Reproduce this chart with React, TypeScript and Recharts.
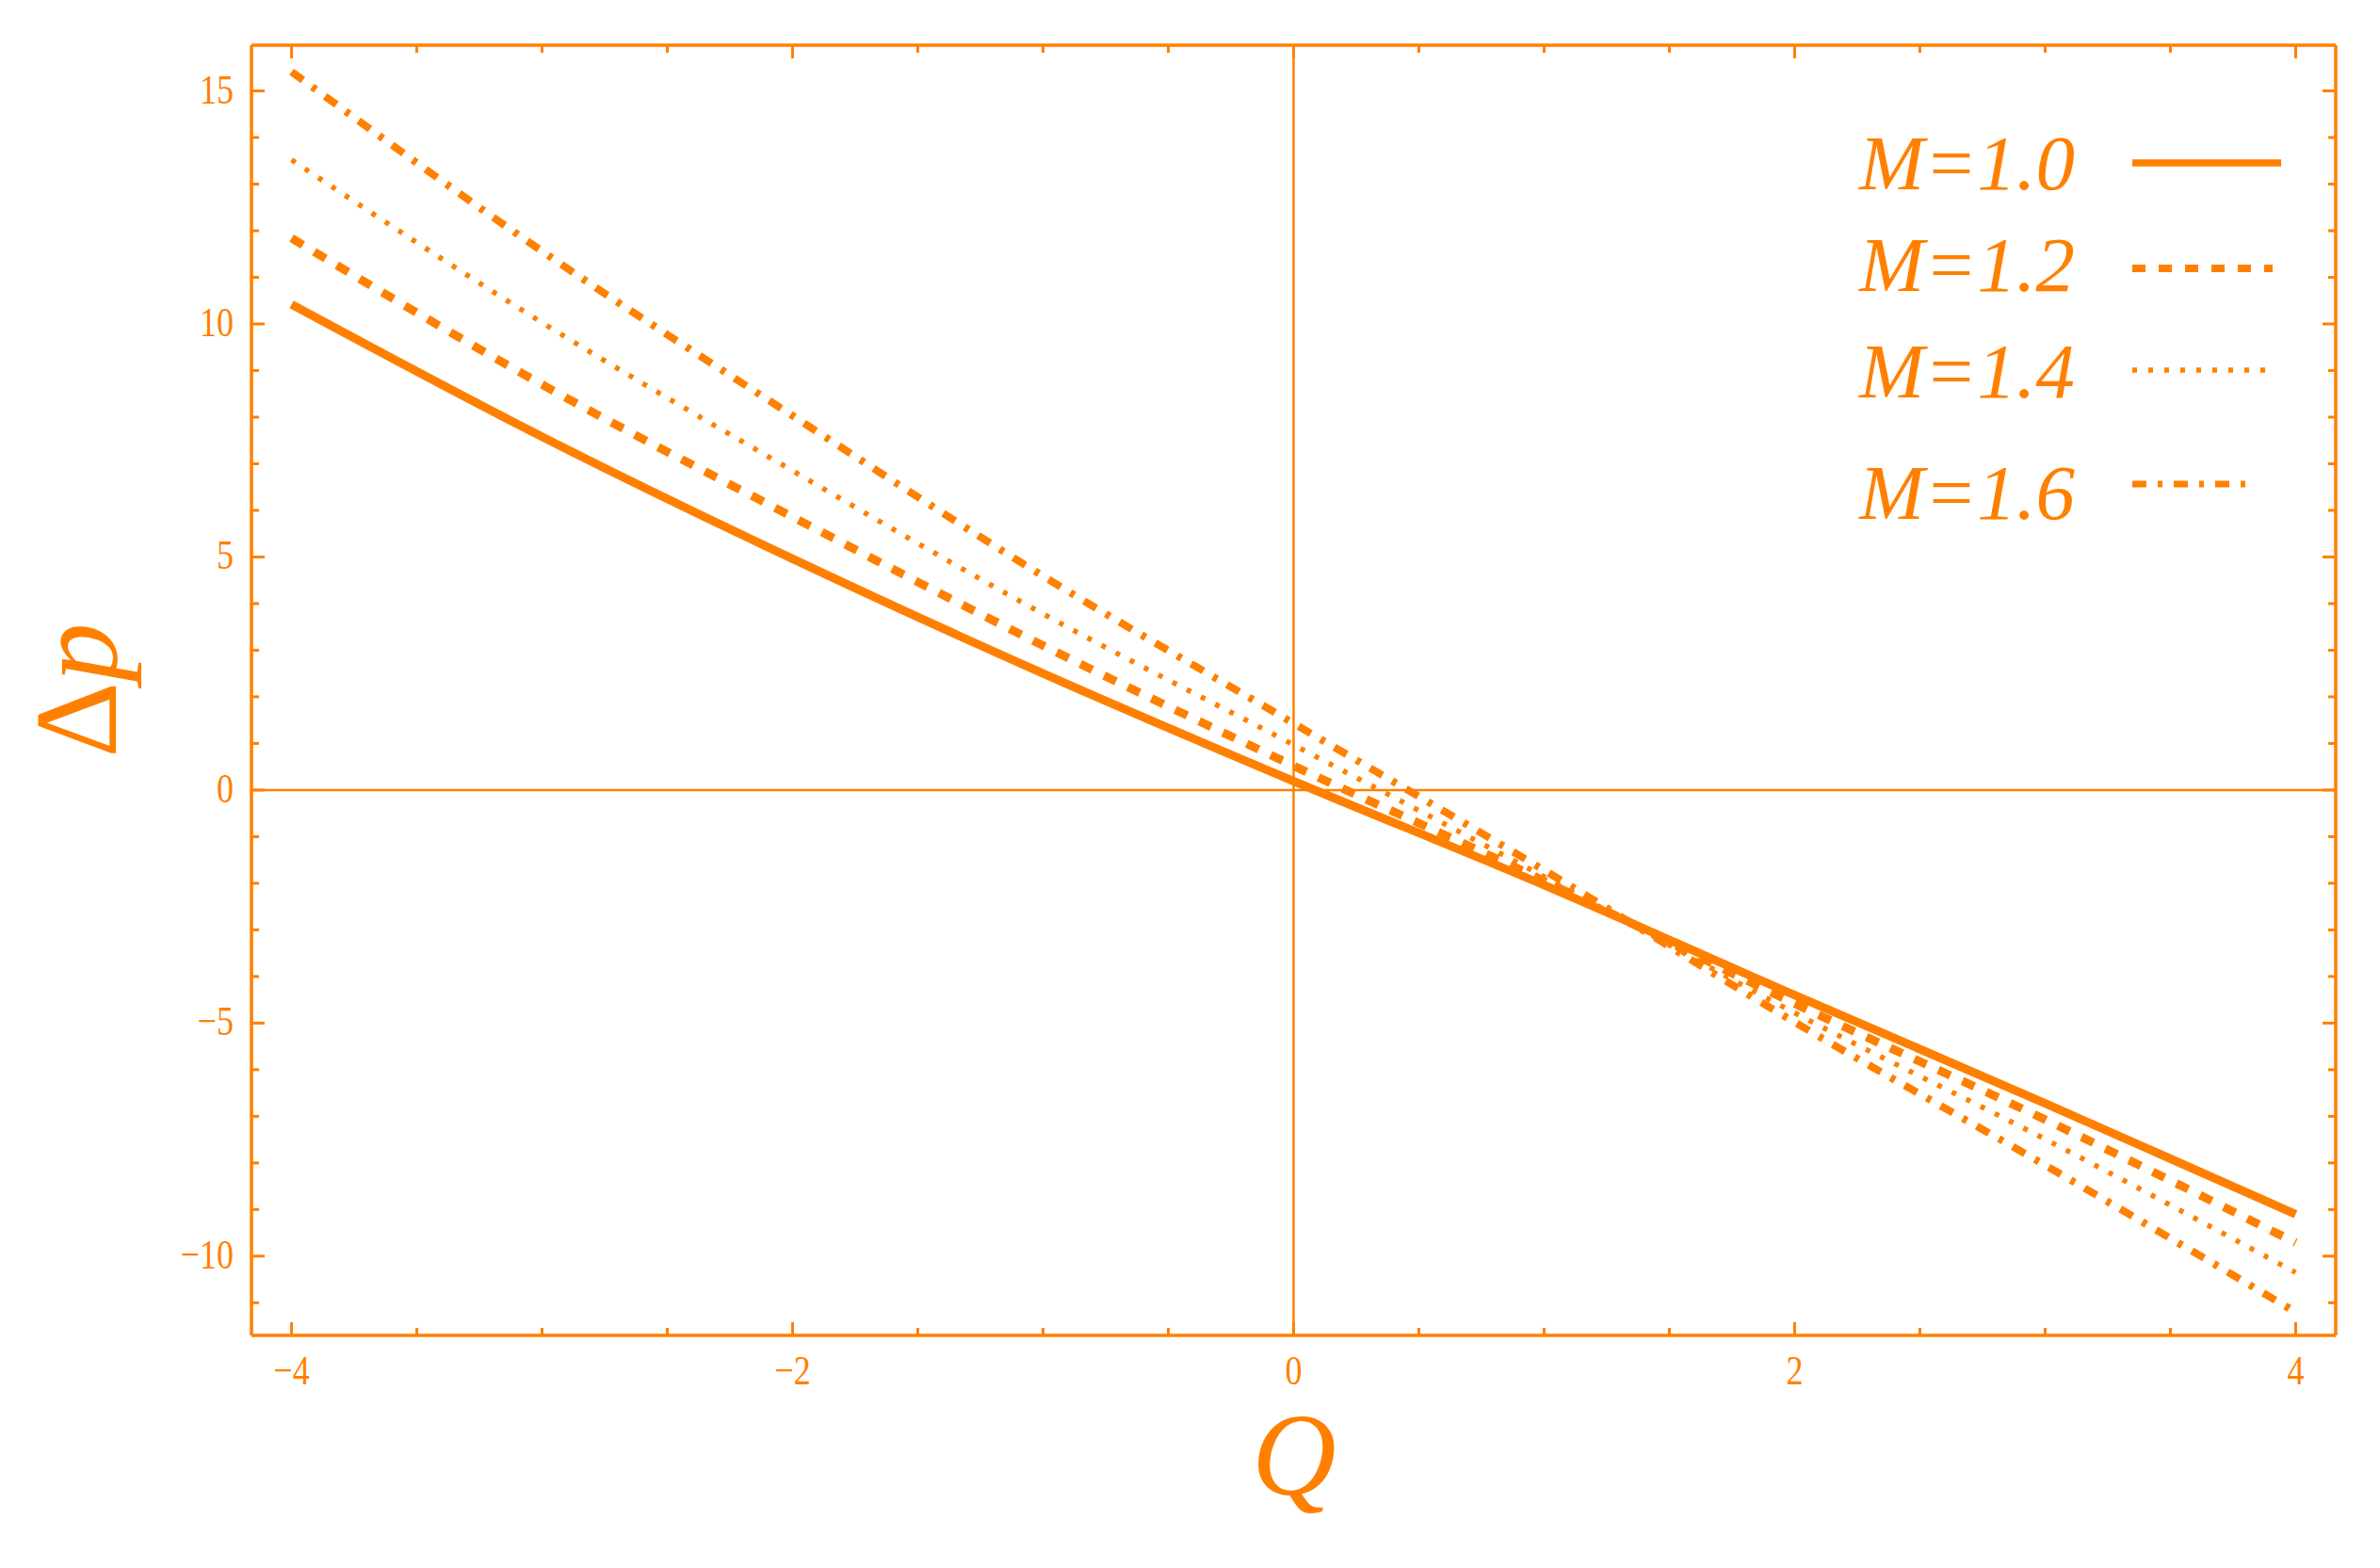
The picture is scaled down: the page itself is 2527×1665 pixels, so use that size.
import { LineChart, Line, XAxis, YAxis, ReferenceLine, Legend } from "recharts";

// pressure rise Δp against flow rate Q, for four values of M
const Q_VALUES = [-4, -3, -2, -1, 0, 1, 2, 3, 4];
const DP_M10 = [10.42, 7.58, 4.96, 2.5, 0.19, -2.04, -4.4, -6.72, -9.1];
const DP_M12 = [11.84, 8.7, 5.86, 3.1, 0.52, -1.95, -4.58, -7.07, -9.71];
const DP_M14 = [13.52, 10.03, 6.85, 3.78, 0.97, -1.86, -4.78, -7.49, -10.35];
const DP_M16 = [15.41, 11.56, 8.03, 4.59, 1.43, -1.72, -4.98, -8.05, -11.2];

const SERIES_NAMES = ["M=1.0", "M=1.2", "M=1.4", "M=1.6"];

const X_TICKS = [-4, -3.5, -3, -2.5, -2, -1.5, -1, -0.5, 0, 0.5, 1, 1.5, 2, 2.5, 3, 3.5, 4];
const X_MAJOR = [-4, -2, 0, 2, 4];
const Y_TICKS = [-11, -10, -9, -8, -7, -6, -5, -4, -3, -2, -1, 0, 1, 2, 3, 4, 5, 6, 7, 8, 9, 10, 11, 12, 13, 14, 15];
const Y_MAJOR = [-10, -5, 0, 5, 10, 15];

const data = Q_VALUES.map((q, i) => ({
  q,
  m10: DP_M10[i],
  m12: DP_M12[i],
  m14: DP_M14[i],
  m16: DP_M16[i],
}));

const ORANGE = "#ff8000";
const SERIF = "'Liberation Serif', 'DejaVu Serif', serif";
const W = 2511;
const H = 1648;
const MAJOR_LEN = 14;
const MINOR_LEN = 8;

const STYLES = [
  { key: "m10", width: 9, dash: undefined, legendEnd: 2414, legendWidth: 7.5 },
  { key: "m12", width: 9, dash: "14 14", legendEnd: 2405, legendWidth: 8 },
  { key: "m14", width: 5.5, dash: "5 12", legendEnd: 2405, legendWidth: 5.5 },
  { key: "m16", width: 8, dash: "15 12 5 12", legendEnd: 2380, legendWidth: 7 },
];
const LEGEND_LINE_Y = [165, 277, 385, 506];
const LEGEND_BASELINE = [193, 301, 414, 543];

const fmt = (v: number) => (v < 0 ? `\u2212${Math.abs(v)}` : `${v}`);

const tickLabel = (x: number, y: number, anchor: string, text: string) => (
  <text
    transform={`translate(${x},${y}) scale(0.8,1)`}
    textAnchor={anchor}
    fontFamily={SERIF}
    fontSize={45}
    fill={ORANGE}
  >
    {text}
  </text>
);

function BottomTick({ x, y, payload }: any) {
  const major = X_MAJOR.includes(payload.value);
  return (
    <g>
      <line x1={x} y1={y} x2={x} y2={y - (major ? MAJOR_LEN : MINOR_LEN)} stroke={ORANGE} strokeWidth={3} />
      {major && tickLabel(x, y + 52, "middle", fmt(payload.value))}
    </g>
  );
}

function TopTick({ x, y, payload }: any) {
  const major = X_MAJOR.includes(payload.value);
  return <line x1={x} y1={y} x2={x} y2={y + (major ? MAJOR_LEN : MINOR_LEN)} stroke={ORANGE} strokeWidth={3} />;
}

function LeftTick({ x, y, payload }: any) {
  const major = Y_MAJOR.includes(payload.value);
  return (
    <g>
      <line x1={x} y1={y} x2={x + (major ? MAJOR_LEN : MINOR_LEN)} y2={y} stroke={ORANGE} strokeWidth={3} />
      {major && tickLabel(x - 19, y + 13, "end", fmt(payload.value))}
    </g>
  );
}

function RightTick({ x, y, payload }: any) {
  const major = Y_MAJOR.includes(payload.value);
  return <line x1={x} y1={y} x2={x - (major ? MAJOR_LEN : MINOR_LEN)} y2={y} stroke={ORANGE} strokeWidth={3} />;
}

function LegendBox() {
  return (
    <svg width={W} height={H} style={{ display: "block" }}>
      {STYLES.map((s, i) => (
        <g key={s.key}>
          <text
            x={2195}
            y={LEGEND_BASELINE[i]}
            textAnchor="end"
            fontFamily={SERIF}
            fontStyle="italic"
            fontSize={83}
            fill={ORANGE}
          >
            {SERIES_NAMES[i]}
          </text>
          <line
            x1={2256}
            x2={s.legendEnd}
            y1={LEGEND_LINE_Y[i]}
            y2={LEGEND_LINE_Y[i]}
            stroke={ORANGE}
            strokeWidth={s.legendWidth}
            strokeDasharray={s.dash}
          />
        </g>
      ))}
    </svg>
  );
}

const axisLine = { stroke: ORANGE, strokeWidth: 3.5 };

export default function App() {
  return (
    <div style={{ width: W, height: H, background: "#fff" }}>
      <LineChart width={W} height={H} data={data} margin={{ top: 20, right: 9, bottom: 138, left: 159 }}>
        <XAxis
          xAxisId="top"
          orientation="top"
          type="number"
          dataKey="q"
          domain={[-4.16, 4.16]}
          allowDataOverflow
          ticks={X_TICKS}
          interval={0}
          height={20}
          tickSize={0}
          tickMargin={0}
          tickLine={false}
          axisLine={axisLine}
          tick={<TopTick />}
        />
        <XAxis
          type="number"
          dataKey="q"
          domain={[-4.16, 4.16]}
          allowDataOverflow
          ticks={X_TICKS}
          interval={0}
          height={100}
          tickSize={0}
          tickMargin={0}
          tickLine={false}
          axisLine={axisLine}
          tick={<BottomTick />}
          label={{
            content: () => (
              <text x={1366} y={1579} textAnchor="middle" fontFamily={SERIF} fontStyle="italic" fontSize={124} fill={ORANGE}>
                Q
              </text>
            ),
          }}
        />
        <YAxis
          type="number"
          domain={[-11.7, 15.98]}
          allowDataOverflow
          ticks={Y_TICKS}
          interval={0}
          width={100}
          tickSize={0}
          tickMargin={0}
          tickLine={false}
          axisLine={axisLine}
          tick={<LeftTick />}
          label={{
            content: () => (
              <text
                x={115}
                y={725}
                transform="rotate(-90, 115, 725)"
                textAnchor="middle"
                fontFamily={SERIF}
                fontSize={125}
                fill={ORANGE}
              >
                Δ<tspan fontStyle="italic">p</tspan>
              </text>
            ),
          }}
        />
        <YAxis
          yAxisId="right"
          orientation="right"
          type="number"
          domain={[-11.7, 15.98]}
          allowDataOverflow
          ticks={Y_TICKS}
          interval={0}
          width={30}
          tickSize={0}
          tickMargin={0}
          tickLine={false}
          axisLine={axisLine}
          tick={<RightTick />}
        />
        <ReferenceLine x={0} stroke={ORANGE} strokeWidth={2.5} />
        <ReferenceLine y={0} stroke={ORANGE} strokeWidth={2.5} />
        {STYLES.map((s, i) => (
          <Line
            key={s.key}
            name={SERIES_NAMES[i]}
            type="monotone"
            dataKey={s.key}
            stroke={ORANGE}
            strokeWidth={s.width}
            strokeDasharray={s.dash}
            dot={false}
            activeDot={false}
            isAnimationActive={false}
          />
        ))}
        <Legend
          layout="horizontal"
          align="center"
          verticalAlign="middle"
          wrapperStyle={{ position: "absolute", left: 0, top: 0, width: W, height: H, pointerEvents: "none" }}
          content={() => <LegendBox />}
        />
      </LineChart>
    </div>
  );
}
